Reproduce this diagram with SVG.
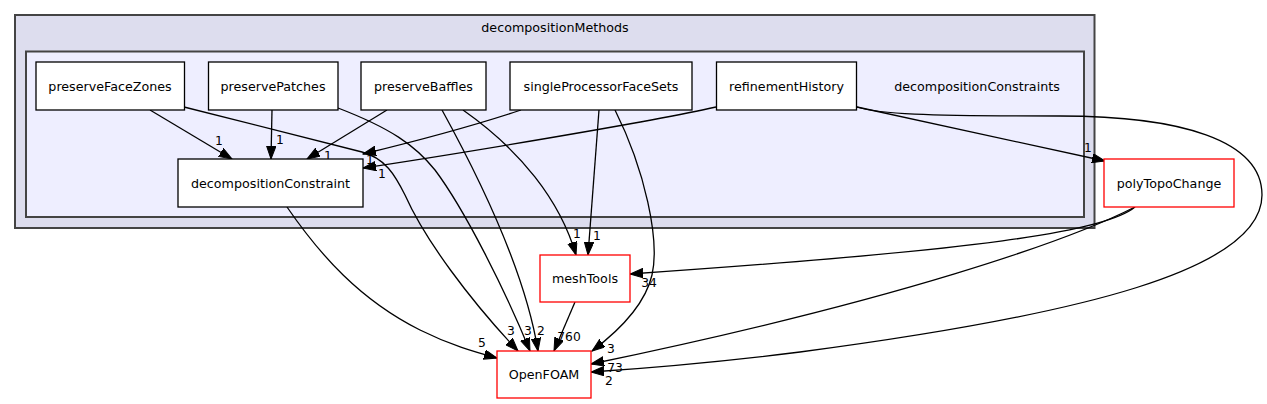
<svg xmlns="http://www.w3.org/2000/svg" width="1267" height="404" viewBox="0 0 1267 404">
<style>
text{font-family:"DejaVu Sans","Liberation Sans",sans-serif;font-size:12.7px;fill:#000}
.n{text-anchor:middle}
.lb{text-anchor:middle;font-size:12.3px}
.node{fill:#fff;stroke:#000;stroke-width:1.3}
.ext{fill:#fff;stroke:#ff0000;stroke-width:1.3}
.e{fill:none;stroke:#000;stroke-width:1.3;marker-end:url(#a)}
</style>
<defs>
<marker id="a" markerWidth="14" markerHeight="10" refX="13" refY="4.7" orient="auto" markerUnits="userSpaceOnUse"><path d="M0,0 L13,4.7 L0,9.4 z" fill="#000" stroke="#000" stroke-width="1"/></marker>
</defs>
<g id="cluster-decompositionMethods">
<rect x="15" y="15" width="1079.5" height="213" fill="#ddddee" stroke="#444" stroke-width="2"/>
<text class="n" x="555" y="32">decompositionMethods</text>
</g>
<g id="cluster-decompositionConstraints">
<rect x="26" y="51.5" width="1058" height="165.5" fill="#eeeeff" stroke="#444" stroke-width="2"/>
<text class="n" x="977" y="91">decompositionConstraints</text>
</g>
<g id="edges">
<path class="e" d="M150,110 L232,159"/>
<path class="e" d="M184,107 L362,152 C385,158 395,175 405,195 C425,240 470,300 518,351"/>
<path class="e" d="M272,110 L271,159"/>
<path class="e" d="M338,108 C390,128 415,145 435,170 C465,210 505,290 530,351"/>
<path class="e" d="M387,110 L307,159"/>
<path class="e" d="M442,110 C475,170 525,270 538,351"/>
<path class="e" d="M463,110 C520,150 560,200 576,255"/>
<path class="e" d="M521,110 C470,127 400,145 363,154"/>
<path class="e" d="M599,110 L588,255"/>
<path class="e" d="M615,110 C645,170 660,240 652,275 C645,305 620,330 592,351"/>
<path class="e" d="M716,107 C650,122 450,155 363,168"/>
<path class="e" d="M857,107 L1105,161"/>
<path class="e" d="M857,107 C880,114 920,116 1060,116 C1180,116 1262,140 1262,195 C1262,270 1080,315 800,352 C720,362 650,368 591,372"/>
<path class="e" d="M287,207 C320,255 360,300 420,330 C450,345 475,352 497,358"/>
<path class="e" d="M575,302 L554,351"/>
<path class="e" d="M1135,207 C1105,232 980,250 630,274"/>
<path class="e" d="M1135,207 C1070,240 900,300 591,364"/>
<text class="lb" x="219" y="145">1</text>
<text class="lb" x="280" y="144">1</text>
<text class="lb" x="328" y="160">1</text>
<text class="lb" x="370" y="164">1</text>
<text class="lb" x="382" y="178">1</text>
<text class="lb" x="577" y="238">1</text>
<text class="lb" x="597" y="240">1</text>
<text class="lb" x="1088" y="152">1</text>
<text class="lb" x="649" y="287">34</text>
<text class="lb" x="511" y="335">3</text>
<text class="lb" x="528" y="335">3</text>
<text class="lb" x="541" y="335">2</text>
<text class="lb" x="482" y="347">5</text>
<text class="lb" x="569" y="341">760</text>
<text class="lb" x="611" y="353">3</text>
<text class="lb" x="615" y="372">73</text>
<text class="lb" x="609" y="385">2</text>
</g>
<g id="node-preserveFaceZones">
<rect class="node" x="36" y="62" width="148.5" height="48"/>
<text class="n" x="110" y="90.5">preserveFaceZones</text>
</g>
<g id="node-preservePatches">
<rect class="node" x="208.5" y="62" width="129.5" height="48"/>
<text class="n" x="273" y="90.5">preservePatches</text>
</g>
<g id="node-preserveBaffles">
<rect class="node" x="361" y="62" width="125" height="48"/>
<text class="n" x="423.5" y="90.5">preserveBaffles</text>
</g>
<g id="node-singleProcessorFaceSets">
<rect class="node" x="510" y="62" width="182" height="48"/>
<text class="n" x="601" y="90.5">singleProcessorFaceSets</text>
</g>
<g id="node-refinementHistory">
<rect class="node" x="716.5" y="62" width="140" height="48"/>
<text class="n" x="786.5" y="90.5">refinementHistory</text>
</g>
<g id="node-decompositionConstraint">
<rect class="node" x="178" y="159" width="185" height="48"/>
<text class="n" x="270.5" y="187.5">decompositionConstraint</text>
</g>
<g id="node-polyTopoChange">
<rect class="ext" x="1104" y="159" width="130" height="48"/>
<text class="n" x="1169" y="187.5">polyTopoChange</text>
</g>
<g id="node-meshTools">
<rect class="ext" x="540" y="255" width="90" height="47"/>
<text class="n" x="585" y="283">meshTools</text>
</g>
<g id="node-OpenFOAM">
<rect class="ext" x="497" y="351" width="94" height="47"/>
<text class="n" x="544" y="379">OpenFOAM</text>
</g>
</svg>
